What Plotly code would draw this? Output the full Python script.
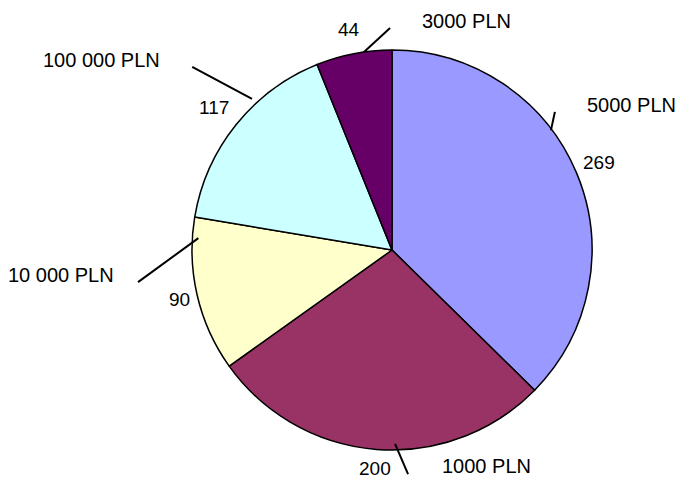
import math
import plotly.graph_objects as go

categories = ["5000 PLN", "1000 PLN", "10 000 PLN", "100 000 PLN", "3000 PLN"]
values = [269, 200, 90, 117, 44]
colors = ["#9999FF", "#993366", "#FFFFCC", "#CCFFFF", "#660066"]

W, H = 676, 480
CX, CY, R = 392, 250, 200  # pie centre / radius in pixels

# value labels sit on the slice mid-angle at these distances (in pie radii)
value_label_r = [1.125, 1.095, 1.093, 1.14, 1.124]
# category label centres in pixels (from top-left)
cat_label_px = [(631.5, 105.5), (486.5, 466), (61, 275), (101.5, 60), (466, 21)]
# leader lines: (angle deg clockwise from 12 o'clock, radius in pie radii) pairs
leaders = [((53.0, 0.995), (49.7, 1.068)),
           ((179.1, 0.97), (175.9, 1.123)),
           ((273.5, 0.97), (262.8, 1.28)),
           ((317.2, 1.03), (312.5, 1.355)),
           ((351.95, 1.0), (359.5, 1.11))]


def polar_to_paper(ang, r):
    a = math.radians(ang)
    px = CX + r * R * math.sin(a)
    py = CY - r * R * math.cos(a)
    return px / W, 1 - py / H


fig = go.Figure(go.Pie(
    labels=categories, values=values, sort=False, direction="clockwise", rotation=0,
    marker=dict(colors=colors, line=dict(color="black", width=1.5)),
    textinfo="none", hoverinfo="label+value", showlegend=False,
    domain=dict(x=[(CX - R) / W, (CX + R) / W], y=[(H - CY - R) / H, (H - CY + R) / H]),
))

total = sum(values)
annotations = []
cum = 0
for v, r in zip(values, value_label_r):
    mid = (cum + v / 2) / total * 360
    cum += v
    x, y = polar_to_paper(mid, r)
    annotations.append(dict(x=x, y=y, xref="paper", yref="paper", text=str(v), showarrow=False,
                            xanchor="center", yanchor="middle", borderpad=0,
                            font=dict(family="Liberation Sans, Arial, sans-serif", size=19, color="black")))
for c, (px, py) in zip(categories, cat_label_px):
    annotations.append(dict(x=px / W, y=1 - py / H, xref="paper", yref="paper", text=c, showarrow=False,
                            xanchor="center", yanchor="middle", borderpad=0,
                            font=dict(family="Liberation Sans, Arial, sans-serif", size=20, color="black")))

shapes = []
for (a1, r1), (a2, r2) in leaders:
    x0, y0 = polar_to_paper(a1, r1)
    x1, y1 = polar_to_paper(a2, r2)
    shapes.append(dict(type="line", xref="paper", yref="paper", x0=x0, y0=y0, x1=x1, y1=y1,
                       line=dict(color="black", width=2)))

fig.update_layout(width=W, height=H, margin=dict(l=0, r=0, t=0, b=0),
                  paper_bgcolor="white", plot_bgcolor="white",
                  annotations=annotations, shapes=shapes)
fig.write_html("out.html")
